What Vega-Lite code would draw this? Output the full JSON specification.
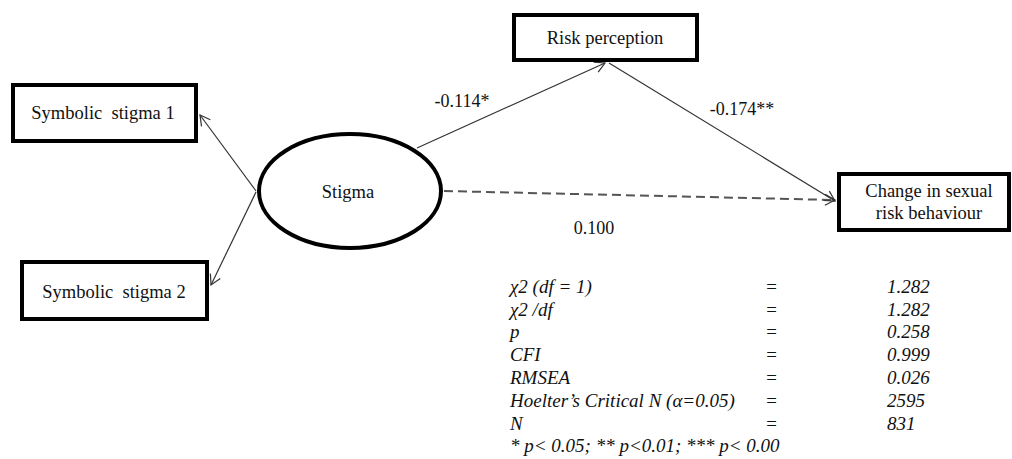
{
  "$schema": "https://vega.github.io/schema/vega-lite/v6.json",
  "width": 1012,
  "height": 459,
  "autosize": {"type": "fit", "contains": "padding"},
  "padding": 0,
  "background": "white",
  "config": {"view": {"stroke": null}},
  "datasets": {
    "edges": [
      {"from": "Stigma", "to": "Symbolic stigma 1", "sig": "yes", "x1": 256, "y1": 191, "x2": 200, "y2": 115},
      {"from": "Stigma", "to": "Symbolic stigma 2", "sig": "yes", "x1": 256, "y1": 192, "x2": 211, "y2": 285},
      {"from": "Stigma", "to": "Risk perception", "sig": "yes", "x1": 417, "y1": 148, "x2": 605, "y2": 63},
      {"from": "Risk perception", "to": "Change", "sig": "yes", "x1": 609, "y1": 63, "x2": 835, "y2": 201},
      {"from": "Stigma", "to": "Change", "sig": "no", "x1": 444, "y1": 191, "x2": 835, "y2": 200}
    ],
    "boxes": [
      {"name": "Symbolic stigma 1", "x1": 13, "x2": 196, "y1": 85, "y2": 141},
      {"name": "Symbolic stigma 2", "x1": 22, "x2": 207, "y1": 262, "y2": 319},
      {"name": "Risk perception", "x1": 514, "x2": 697, "y1": 15, "y2": 60},
      {"name": "Change", "x1": 839, "x2": 1009, "y1": 174, "y2": 230}
    ],
    "latent": [
      {"name": "Stigma", "x": 350, "y": 191}
    ],
    "labels": [
      {"kind": "node", "text": "Symbolic\u00a0 stigma 1", "x": 103, "y": 113},
      {"kind": "node", "text": "Symbolic\u00a0 stigma 2", "x": 114, "y": 292},
      {"kind": "node", "text": "Stigma", "x": 348, "y": 192},
      {"kind": "node", "text": "Risk perception", "x": 605, "y": 38},
      {"kind": "node", "text": "Change in sexual", "x": 929, "y": 191},
      {"kind": "node", "text": "risk behaviour", "x": 929, "y": 213},
      {"kind": "edge", "text": "-0.114*", "x": 462, "y": 102},
      {"kind": "edge", "text": "-0.174**", "x": 742, "y": 110},
      {"kind": "edge", "text": "0.100", "x": 594, "y": 229},
      {"kind": "stat", "text": "χ2 (df = 1)", "x": 510, "y": 287},
      {"kind": "stat", "text": "=", "x": 765, "y": 287},
      {"kind": "stat", "text": "1.282", "x": 887, "y": 287},
      {"kind": "stat", "text": "χ2 /df", "x": 510, "y": 310},
      {"kind": "stat", "text": "=", "x": 765, "y": 310},
      {"kind": "stat", "text": "1.282", "x": 887, "y": 310},
      {"kind": "stat", "text": "p", "x": 510, "y": 332},
      {"kind": "stat", "text": "=", "x": 765, "y": 332},
      {"kind": "stat", "text": "0.258", "x": 887, "y": 332},
      {"kind": "stat", "text": "CFI", "x": 510, "y": 355},
      {"kind": "stat", "text": "=", "x": 765, "y": 355},
      {"kind": "stat", "text": "0.999", "x": 887, "y": 355},
      {"kind": "stat", "text": "RMSEA", "x": 510, "y": 378},
      {"kind": "stat", "text": "=", "x": 765, "y": 378},
      {"kind": "stat", "text": "0.026", "x": 887, "y": 378},
      {"kind": "stat", "text": "Hoelter’s Critical N (α=0.05)", "x": 510, "y": 401},
      {"kind": "stat", "text": "=", "x": 765, "y": 401},
      {"kind": "stat", "text": "2595", "x": 887, "y": 401},
      {"kind": "stat", "text": "N", "x": 510, "y": 424},
      {"kind": "stat", "text": "=", "x": 765, "y": 424},
      {"kind": "stat", "text": "831", "x": 887, "y": 424},
      {"kind": "stat", "text": "* p< 0.05; ** p<0.01; *** p< 0.00", "x": 510, "y": 446}
    ]
  },
  "layer": [
    {
      "data": {"name": "edges"},
      "transform": [{"filter": "datum.sig == 'yes'"}],
      "mark": {"type": "rule", "color": "#333333", "strokeWidth": 1.2},
      "encoding": {
        "x": {"field": "x1", "type": "quantitative", "scale": {"domain": [0, 1012], "nice": false, "zero": false}, "axis": null},
        "y": {"field": "y1", "type": "quantitative", "scale": {"domain": [0, 459], "nice": false, "zero": false, "reverse": true}, "axis": null},
        "x2": {"field": "x2"},
        "y2": {"field": "y2"}
      }
    },
    {
      "data": {"name": "edges"},
      "transform": [{"filter": "datum.sig == 'no'"}],
      "mark": {"type": "rule", "color": "#555555", "strokeWidth": 2, "strokeDash": [9, 5]},
      "encoding": {
        "x": {"field": "x1", "type": "quantitative", "axis": null},
        "y": {"field": "y1", "type": "quantitative", "axis": null},
        "x2": {"field": "x2"},
        "y2": {"field": "y2"}
      }
    },
    {
      "data": {"name": "edges"},
      "transform": [{"calculate": "atan2(datum.y2 - datum.y1, datum.x2 - datum.x1) * 180 / PI", "as": "ang"}],
      "mark": {"type": "point", "shape": "M -1 -0.55 L 0 0 L -1 0.55", "filled": false, "stroke": "#333333", "strokeWidth": 1.2, "size": 400, "opacity": 1},
      "encoding": {
        "x": {"field": "x2", "type": "quantitative", "axis": null},
        "y": {"field": "y2", "type": "quantitative", "axis": null},
        "angle": {"field": "ang", "type": "quantitative", "scale": null}
      }
    },
    {
      "data": {"name": "boxes"},
      "mark": {"type": "rect", "fill": "white", "stroke": "black", "strokeWidth": 4},
      "encoding": {
        "x": {"field": "x1", "type": "quantitative", "axis": null},
        "x2": {"field": "x2"},
        "y": {"field": "y1", "type": "quantitative", "axis": null},
        "y2": {"field": "y2"}
      }
    },
    {
      "data": {"name": "latent"},
      "mark": {"type": "point", "shape": "M -1 0 A 1 0.626 0 1 1 1 0 A 1 0.626 0 1 1 -1 0 Z", "filled": true, "fill": "white", "stroke": "black", "strokeWidth": 4, "size": 33124, "opacity": 1},
      "encoding": {
        "x": {"field": "x", "type": "quantitative", "axis": null},
        "y": {"field": "y", "type": "quantitative", "axis": null}
      }
    },
    {
      "data": {"name": "labels"},
      "transform": [{"filter": "datum.kind == 'node'"}],
      "mark": {"type": "text", "font": "Liberation Serif", "fontSize": 18.5, "color": "#111111", "align": "center", "baseline": "middle"},
      "encoding": {
        "x": {"field": "x", "type": "quantitative", "axis": null},
        "y": {"field": "y", "type": "quantitative", "axis": null},
        "text": {"field": "text"}
      }
    },
    {
      "data": {"name": "labels"},
      "transform": [{"filter": "datum.kind == 'edge'"}],
      "mark": {"type": "text", "font": "Liberation Serif", "fontSize": 18, "color": "#111111", "align": "center", "baseline": "middle"},
      "encoding": {
        "x": {"field": "x", "type": "quantitative", "axis": null},
        "y": {"field": "y", "type": "quantitative", "axis": null},
        "text": {"field": "text"}
      }
    },
    {
      "data": {"name": "labels"},
      "transform": [{"filter": "datum.kind == 'stat'"}],
      "mark": {"type": "text", "font": "Liberation Serif", "fontSize": 19, "fontStyle": "italic", "color": "#111111", "align": "left", "baseline": "middle"},
      "encoding": {
        "x": {"field": "x", "type": "quantitative", "axis": null},
        "y": {"field": "y", "type": "quantitative", "axis": null},
        "text": {"field": "text"}
      }
    }
  ]
}
